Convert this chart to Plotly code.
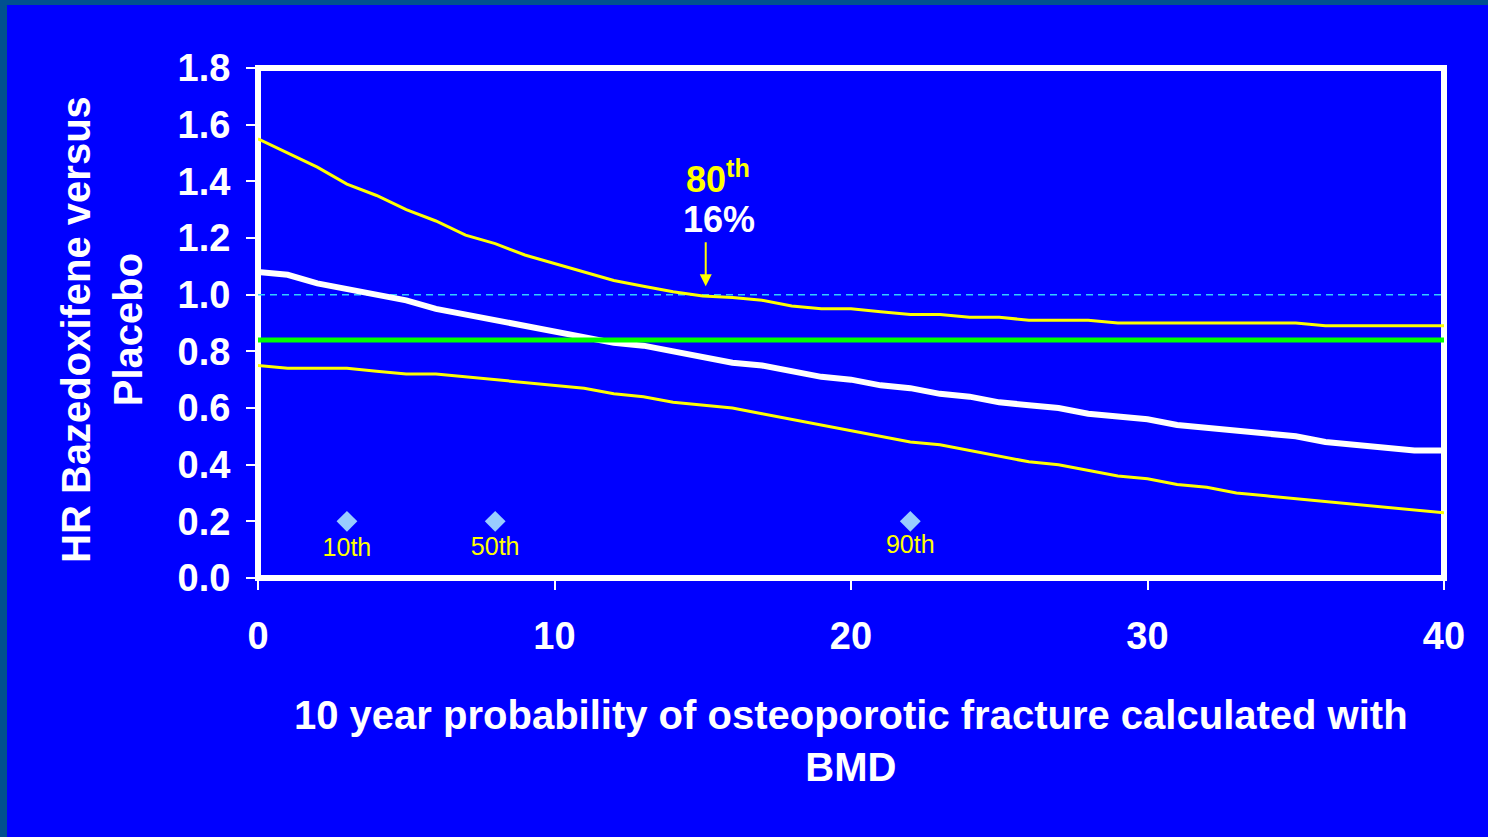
import plotly.graph_objects as go

# ---- data ----
x_prob = list(range(0, 41))
hr_mid = [1.08, 1.07, 1.04, 1.02, 1.00, 0.98, 0.95, 0.93, 0.91, 0.89, 0.87,
          0.85, 0.83, 0.82, 0.80, 0.78, 0.76, 0.75, 0.73, 0.71, 0.70,
          0.68, 0.67, 0.65, 0.64, 0.62, 0.61, 0.60, 0.58, 0.57, 0.56,
          0.54, 0.53, 0.52, 0.51, 0.50, 0.48, 0.47, 0.46, 0.45, 0.45]
hr_upper = [1.55, 1.50, 1.45, 1.39, 1.35, 1.30, 1.26, 1.21, 1.18, 1.14, 1.11,
            1.08, 1.05, 1.03, 1.01, 0.995, 0.99, 0.98, 0.96, 0.95, 0.95,
            0.94, 0.93, 0.93, 0.92, 0.92, 0.91, 0.91, 0.91, 0.90, 0.90,
            0.90, 0.90, 0.90, 0.90, 0.90, 0.89, 0.89, 0.89, 0.89, 0.89]
hr_lower = [0.75, 0.74, 0.74, 0.74, 0.73, 0.72, 0.72, 0.71, 0.70, 0.69, 0.68,
            0.67, 0.65, 0.64, 0.62, 0.61, 0.60, 0.58, 0.56, 0.54, 0.52,
            0.50, 0.48, 0.47, 0.45, 0.43, 0.41, 0.40, 0.38, 0.36, 0.35,
            0.33, 0.32, 0.30, 0.29, 0.28, 0.27, 0.26, 0.25, 0.24, 0.23]
ref_x = [0, 40]
ref_hr1 = [1.0, 1.0]
overall_hr = [0.84, 0.84]
pct_x = [3, 8, 22]
pct_y = [0.2, 0.2, 0.2]
pct_labels = ["10th", "50th", "90th"]
pct_label_y = [0.10, 0.105, 0.11]
y_ticks = [0.0, 0.2, 0.4, 0.6, 0.8, 1.0, 1.2, 1.4, 1.6, 1.8]
x_ticks = [0, 10, 20, 30, 40]

FONT = "Liberation Sans, Arial, sans-serif"
BLUE = "#0000FF"
YELLOW = "#FFFF00"

fig = go.Figure()
fig.add_trace(go.Scatter(x=ref_x, y=ref_hr1, mode="lines",
                         line=dict(color="#33CCFF", width=1.5, dash="7px,5px"),
                         hoverinfo="skip"))
fig.add_trace(go.Scatter(x=x_prob, y=hr_upper, mode="lines",
                         line=dict(color=YELLOW, width=3)))
fig.add_trace(go.Scatter(x=x_prob, y=hr_lower, mode="lines",
                         line=dict(color=YELLOW, width=3)))
fig.add_trace(go.Scatter(x=x_prob, y=hr_mid, mode="lines",
                         line=dict(color="white", width=6)))
fig.add_trace(go.Scatter(x=ref_x, y=overall_hr, mode="lines",
                         line=dict(color="#00FF00", width=5)))
fig.add_trace(go.Scatter(x=pct_x, y=pct_y, mode="markers",
                         marker=dict(symbol="diamond", size=16, color="#99CCFF")))
fig.add_trace(go.Scatter(x=pct_x, y=pct_label_y, mode="text", text=pct_labels,
                         textfont=dict(family=FONT, size=25, color=YELLOW)))

# background + frame
fig.add_shape(type="rect", xref="paper", yref="paper",
              x0=(7 - 258) / 1186, x1=1.3, y0=-1.0, y1=(578 - 5) / 510,
              fillcolor=BLUE, line=dict(width=0), layer="below")
fig.add_shape(type="rect", xref="paper", yref="paper", x0=0, x1=1, y0=0, y1=1,
              line=dict(color="white", width=6), fillcolor="rgba(0,0,0,0)",
              layer="below")

# annotations
fig.add_annotation(x=15.5, y=1.415, xref="x", yref="y", text="<b>80<sup>th</sup></b>",
                   showarrow=False, font=dict(family=FONT, size=36, color=YELLOW))
fig.add_annotation(x=15.55, y=1.264, xref="x", yref="y", text="<b>16%</b>",
                   showarrow=False, font=dict(family=FONT, size=36, color="white"))
fig.add_annotation(x=15.1, y=1.03, ax=15.1, ay=1.19, xref="x", yref="y",
                   axref="x", ayref="y", text="", showarrow=True, arrowhead=2,
                   arrowsize=1.2, arrowwidth=2, arrowcolor=YELLOW)
fig.add_annotation(x=(102 - 258) / 1186, y=(578 - 330) / 510, xref="paper", yref="paper",
                   xanchor="center", yanchor="middle",
                   text="<b>HR Bazedoxifene versus<br>Placebo</b>", textangle=-90,
                   showarrow=False, font=dict(family=FONT, size=40, color="white"))
fig.add_annotation(x=0.5, y=(578 - 741) / 510, xref="paper", yref="paper",
                   xanchor="center", yanchor="middle",
                   text="<b>10 year probability of osteoporotic fracture calculated with<br>BMD</b>",
                   showarrow=False, font=dict(family=FONT, size=40, color="white"))

fig.update_layout(
    width=1488, height=837,
    margin=dict(l=258, r=44, t=68, b=259),
    paper_bgcolor="#00508F", plot_bgcolor=BLUE,
    showlegend=False,
    xaxis=dict(range=[0, 40], tickvals=x_ticks, ticks="outside", ticklen=11,
               tickwidth=2, tickcolor="white", showgrid=False, zeroline=False,
               showline=False, ticklabelstandoff=13,
               tickfont=dict(family=FONT, size=38, color="white", weight="bold")),
    yaxis=dict(range=[0, 1.8], tickvals=y_ticks, tickformat=".1f", ticks="outside",
               ticklen=11, tickwidth=2, tickcolor="white", showgrid=False,
               zeroline=False, showline=False, ticklabelstandoff=8,
               tickfont=dict(family=FONT, size=38, color="white", weight="bold")),
)

fig.write_html("out.html", config={"displayModeBar": False},
               post_script="document.body.style.margin='0';")
